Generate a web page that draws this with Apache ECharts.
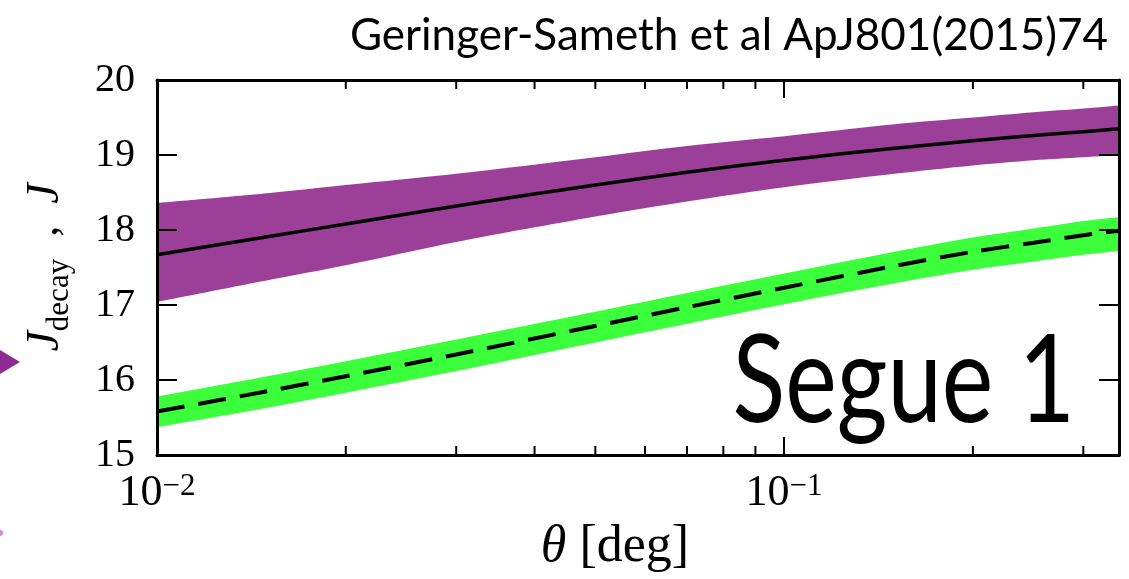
<!DOCTYPE html>
<html>
<head>
<meta charset="utf-8">
<script src="https://cdn.jsdelivr.net/npm/echarts@6/dist/echarts.min.js"></script>
<style>
  html, body { margin: 0; padding: 0; background: #ffffff; }
  #chart { width: 1129px; height: 579px; }
</style>
</head>
<body>
<div id="chart"></div>
<script>
// Opening angle theta [deg]
const theta = [0.01, 0.015, 0.02, 0.03, 0.05, 0.07, 0.1, 0.15, 0.2, 0.25, 0.3, 0.342];

// Annihilation J profile (log10), median and 68% band
const jMedian = [17.67, 17.91, 18.08, 18.32, 18.60, 18.77, 18.93, 19.09, 19.19, 19.26, 19.31, 19.35];
const jHigh   = [18.36, 18.49, 18.60, 18.75, 18.97, 19.12, 19.25, 19.41, 19.50, 19.57, 19.62, 19.66];
const jLow    = [17.04, 17.33, 17.53, 17.84, 18.18, 18.38, 18.57, 18.75, 18.86, 18.93, 18.97, 19.00];

// Decay J profile (log10), median and 68% band
const dMedian = [15.58, 15.85, 16.05, 16.34, 16.72, 16.97, 17.23, 17.52, 17.71, 17.83, 17.93, 17.99];
const dHigh   = [15.78, 16.05, 16.25, 16.54, 16.91, 17.16, 17.42, 17.71, 17.90, 18.02, 18.12, 18.17];
const dLow    = [15.37, 15.63, 15.83, 16.12, 16.50, 16.75, 17.01, 17.29, 17.47, 17.58, 17.67, 17.72];

// Axis ranges and ticks
const xRange = [0.01, 0.342];
const yRange = [15, 20];
const yTickStep = 1;
const xMinorTicks = [0.02, 0.03, 0.04, 0.05, 0.06, 0.07, 0.08, 0.09, 0.2, 0.3];

const titleText = 'Geringer-Sameth et al ApJ801(2015)74';
const panelText = 'Segue 1';

const PURPLE = '#9c3f98';
const GREEN = '#3cff3c';
const SERIF = '"Liberation Serif", "DejaVu Serif", serif';
const SANS = 'Lato, "Open Sans", sans-serif';

const pairs = (ys) => theta.map((t, i) => [t, ys[i]]);

function isPow10(v) {
  const l = Math.log10(v);
  return Math.abs(l - Math.round(l)) < 1e-6;
}

// A filled curve: everything below the curve gets painted (down to the axis floor).
// Bands are built by painting the upper edge in colour and the lower edge in white on top.
function fillSeries(name, ys, color, z) {
  return {
    type: 'line', name, data: pairs(ys),
    smooth: 0.3, showSymbol: false, silent: true,
    lineStyle: { width: 0, opacity: 0 },
    areaStyle: { color, opacity: 1 },
    z
  };
}

const chart = echarts.init(document.getElementById('chart'), null, { renderer: 'canvas' });

const baseX = {
  type: 'log',
  logBase: 10,
  min: xRange[0],
  max: xRange[1],
  z: 20,
  axisLine: { show: true, onZero: false, lineStyle: { color: '#000', width: 3 } },
  axisTick: { show: true, inside: true, length: 18, lineStyle: { color: '#000', width: 2 } },
  splitLine: { show: false },
  minorTick: { show: false }
};

const baseY = {
  type: 'value',
  min: yRange[0],
  max: yRange[1],
  interval: yTickStep,
  z: 20,
  axisLine: { show: true, onZero: false, lineStyle: { color: '#000', width: 3 } },
  axisTick: { show: true, inside: true, length: 20, lineStyle: { color: '#000', width: 2 } },
  splitLine: { show: false }
};

const option = {
  animation: false,
  backgroundColor: '#ffffff',
  grid: { left: 157, right: 10, top: 80, bottom: 124, containLabel: false },
  xAxis: [
    Object.assign({}, baseX, {
      position: 'bottom',
      axisLabel: {
        show: true,
        margin: 16,
        formatter: (v) => isPow10(v) ? '{b|10}{s|\u2212' + Math.abs(Math.round(Math.log10(v))) + '}' : '',
        rich: {
          b: { fontFamily: SERIF, fontSize: 44, color: '#000', lineHeight: 44, verticalAlign: 'bottom' },
          s: { fontFamily: SERIF, fontSize: 31, color: '#000', lineHeight: 22, verticalAlign: 'top' }
        }
      },
      name: '{i|\u03b8}{r| [deg]}',
      nameLocation: 'middle',
      nameGap: 66,
      nameTextStyle: {
        padding: [0, 46, 0, 0],
        rich: {
          i: { fontFamily: SERIF, fontStyle: 'italic', fontSize: 52, color: '#000' },
          r: { fontFamily: SERIF, fontSize: 52, color: '#000' }
        }
      }
    }),
    Object.assign({}, baseX, { position: 'top', axisLabel: { show: false } })
  ],
  yAxis: [
    Object.assign({}, baseY, {
      position: 'left',
      axisLabel: { show: true, margin: 22, fontFamily: SERIF, fontSize: 40, color: '#000' },
      name: '{i|J}{sub|decay}{r|  ,  }{i|J}',
      nameLocation: 'middle',
      nameRotate: 90,
      nameGap: 82,
      nameTextStyle: {
        rich: {
          i: { fontFamily: SERIF, fontStyle: 'italic', fontSize: 46, color: '#000', lineHeight: 52, verticalAlign: 'top' },
          sub: { fontFamily: SERIF, fontSize: 31, color: '#000', lineHeight: 52, verticalAlign: 'bottom' },
          r: { fontFamily: SERIF, fontSize: 44, color: '#000', lineHeight: 52, verticalAlign: 'top' }
        }
      }
    }),
    Object.assign({}, baseY, { position: 'right', axisLabel: { show: false } })
  ],
  series: [
    // purple band (J) between jLow and jHigh
    fillSeries('jHighFill', jHigh, PURPLE, 1),
    fillSeries('jLowMask', jLow, '#ffffff', 2),
    // green band (J decay) between dLow and dHigh
    fillSeries('dHighFill', dHigh, GREEN, 3),
    fillSeries('dLowMask', dLow, '#ffffff', 4),
    // medians
    {
      type: 'line', name: 'J', data: pairs(jMedian),
      smooth: 0.3, showSymbol: false, silent: true,
      lineStyle: { color: '#000', width: 3.5 }, z: 6
    },
    {
      type: 'line', name: 'Jdecay', data: pairs(dMedian),
      smooth: 0.3, showSymbol: false, silent: true,
      lineStyle: { color: '#000', width: 4, type: [28, 14] }, z: 6
    },
    // minor ticks on the log axis (bottom and top)
    {
      type: 'custom', name: 'minorTicks', silent: true, z: 8,
      data: xMinorTicks.map(v => [v, yRange[0]]),
      renderItem: (params, api) => {
        const v = api.value(0);
        const b = api.coord([v, yRange[0]]);
        const t = api.coord([v, yRange[1]]);
        const st = { stroke: '#000', lineWidth: 2 };
        return {
          type: 'group',
          children: [
            { type: 'line', shape: { x1: b[0], y1: b[1], x2: b[0], y2: b[1] - 9 }, style: st },
            { type: 'line', shape: { x1: t[0], y1: t[1], x2: t[0], y2: t[1] + 9 }, style: st }
          ]
        };
      }
    }
  ],
  graphic: [
    {
      type: 'text', x: 1108, y: 36, z: 30,
      style: { text: titleText, fontFamily: SANS, fontSize: 44, fill: '#000', align: 'right', verticalAlign: 'middle' }
    },
    {
      type: 'text', x: 1075, y: 383, z: 30, scaleX: 0.8, originX: 0, originY: 0,
      style: { text: panelText, fontFamily: SANS, fontSize: 122, fill: '#000', align: 'right', verticalAlign: 'middle' }
    },
    {
      type: 'polygon', z: 30,
      shape: { points: [[0, 350], [20, 362], [0, 374]] },
      style: { fill: '#8e2a92' }
    },
    {
      type: 'circle', z: 30,
      shape: { cx: 0, cy: 533, r: 3 },
      style: { fill: '#d58ad8' }
    }
  ]
};

chart.setOption(option);
</script>
</body>
</html>
